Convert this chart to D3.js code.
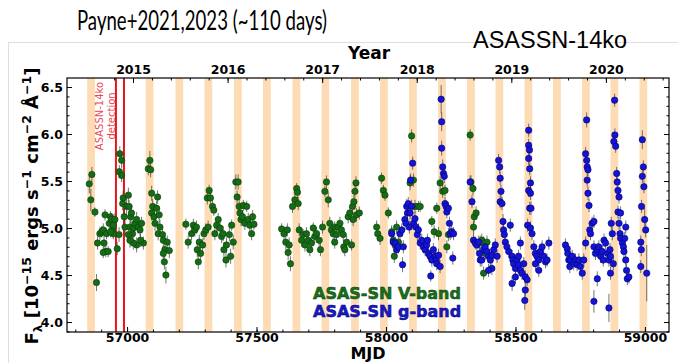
<!DOCTYPE html>
<html>
<head>
<meta charset="utf-8">
<script src="https://d3js.org/d3.v7.min.js"></script>
<style>
body { margin: 0; background: #fff; }
svg { display: block; font-family: "DejaVu Sans", sans-serif; }
</style>
</head>
<body>
<svg id="chart" width="678" height="363"></svg>
<script>
// ASAS-SN light curve of ASASSN-14ko: [MJD, flux, error]
const vBand = [
  [56854,5.47,.10],[56864,5.57,.08],[56860,5.30,.12],[56876,5.17,.05],[56882,4.42,.09],[56886,4.84,.07],
  [56895,4.94,.07],[56902,4.96,.06],[56908,4.98,.07],[56915,5.14,.06],[56911,4.84,.07],[56918,4.75,.06],
  [56908,4.74,.06],[56927,4.75,.06],[56921,4.94,.06],[56931,5.05,.07],[56936,5.12,.06],[56940,5.09,.07],
  [56943,4.98,.08],[56947,5.03,.07],[56953,5.09,.07],[56947,4.94,.06],[56936,4.96,.06],[56962,4.78,.07],
  [56969,4.93,.08],[56972,5.79,.08],[56979,5.72,.08],[56970,5.60,.07],[56979,5.56,.07],[56985,5.32,.08],
  [56983,5.26,.07],[56989,5.12,.07],[56998,5.23,.09],[56992,5.01,.08],[57005,5.35,.08],[57008,5.23,.07],
  [57014,5.12,.08],[57017,5.16,.08],[57011,5.01,.07],[57021,4.94,.07],[57024,5.00,.07],[57030,5.05,.07],
  [57037,5.09,.08],[57043,5.01,.07],[57050,4.98,.07],[57056,5.05,.07],[57063,4.84,.07],[57052,4.87,.07],
  [57037,4.82,.08],[57024,4.84,.07],[57011,4.87,.08],[57005,4.93,.08],[57082,5.63,.07],[57091,5.62,.08],
  [57088,5.72,.10],[57095,5.37,.08],[57099,5.23,.08],[57095,5.16,.08],[57104,5.12,.07],[57108,5.05,.08],
  [57114,5.21,.08],[57118,5.33,.07],[57124,5.14,.09],[57127,5.01,.08],[57120,4.94,.07],[57137,4.93,.08],
  [57140,4.87,.08],[57146,4.77,.08],[57155,4.85,.07],[57163,4.76,.08],[57144,4.64,.08],[57150,4.50,.09],
  [57140,4.73,.08],
  [57227,5.04,.06],[57236,4.85,.07],[57249,4.94,.07],[57256,5.03,.07],[57262,4.98,.07],[57268,5.01,.07],
  [57271,4.77,.08],[57279,4.85,.08],[57275,4.64,.08],[57284,4.73,.08],[57292,4.82,.07],[57297,4.94,.07],
  [57304,4.98,.07],[57310,5.32,.07],[57317,5.40,.06],[57322,5.32,.06],[57313,5.01,.07],[57330,5.23,.06],
  [57335,5.19,.06],[57339,4.94,.07],[57346,5.03,.07],[57352,5.09,.07],[57359,5.00,.07],[57365,4.91,.07],
  [57371,4.94,.08],[57374,4.77,.08],[57382,4.66,.08],[57384,4.82,.08],[57395,4.93,.07],[57400,4.70,.08],
  [57404,5.03,.06],[57410,4.85,.08],[57420,5.49,.08],[57429,5.49,.08],[57425,5.33,.07],[57433,5.23,.08],
  [57436,5.16,.07],[57440,5.09,.07],[57446,5.12,.07],[57449,5.24,.06],[57455,5.05,.07],[57462,5.23,.06],
  [57468,5.09,.07],[57474,5.03,.07],[57481,4.94,.07],[57485,5.12,.07],[57490,5.04,.06],
  [57597,4.99,.06],[57606,4.94,.07],[57613,4.85,.08],[57619,4.98,.07],[57626,4.82,.08],[57622,4.74,.08],
  [57631,4.62,.08],[57639,5.23,.07],[57648,5.30,.07],[57655,5.42,.06],[57658,5.38,.07],[57661,5.26,.07],
  [57665,4.98,.07],[57674,4.87,.07],[57680,4.93,.06],[57687,4.82,.07],[57693,4.94,.07],[57700,4.87,.07],
  [57706,4.77,.07],[57712,4.84,.07],[57719,5.00,.06],[57725,4.91,.07],[57732,4.94,.07],[57742,4.87,.07],
  [57747,4.77,.07],[57755,5.01,.07],[57764,5.39,.06],[57770,5.49,.07],[57777,5.30,.08],
  [57783,5.05,.07],[57789,4.98,.07],[57796,4.94,.07],[57802,5.01,.06],[57809,4.93,.07],[57802,4.85,.07],
  [57815,5.01,.07],[57822,5.05,.07],[57828,4.98,.07],[57835,4.93,.07],[57837,4.80,.07],[57841,4.77,.07],
  [57848,4.85,.07],[57854,5.12,.07],[57860,5.16,.07],[57867,4.82,.06],[57871,5.23,.07],[57876,5.28,.07],
  [57880,5.39,.07],[57884,5.48,.07],[57886,5.14,.07],[57897,5.16,.07],[57873,5.09,.07],
  [57964,5.01,.07],[57968,4.94,.07],[57977,4.89,.07],[57983,5.53,.06],[57990,5.40,.06],[57996,5.35,.06],
  [58009,5.16,.06],[58022,4.96,.07],[58028,4.87,.07],[58035,4.82,.07],[58041,5.01,.07],[58032,4.70,.07],
  [58048,4.85,.07],[58093,5.48,.08],[58099,5.98,.07],[58106,5.51,.07],[58112,5.23,.07],[58125,5.23,.06],
  [58132,5.23,.06],[58177,5.07,.06],[58186,4.96,.07],[58196,5.21,.06],[58203,4.94,.07],[58209,5.48,.07],
  [58219,5.39,.07],[58228,5.40,.06],[58235,4.80,.07],[58241,4.93,.07],
  [58325,5.99,.06],[58328,5.49,.07],[58336,5.42,.07],[58341,5.12,.07],[58338,5.01,.07],[58348,5.16,.07],
  [58364,4.85,.07],[58370,4.87,.07],[58377,4.84,.07],[58383,4.73,.07],[58377,4.52,.07],[58390,4.85,.07]
];

const gBand = [
  [58022,4.94,.07],[58028,4.85,.07],[58035,4.84,.07],[58041,4.77,.07],[58048,4.80,.07],[58054,4.94,.07],
  [58061,4.98,.07],[58067,4.80,.07],[58064,4.61,.08],[58073,5.09,.07],[58077,5.05,.07],[58080,5.23,.08],
  [58083,5.16,.07],[58086,5.26,.07],[58090,5.01,.07],[58093,5.16,.07],[58099,5.23,.07],[58103,5.69,.07],
  [58095,5.51,.07],[58106,5.05,.07],[58112,5.10,.07],[58116,5.01,.07],[58121,4.93,.07],[58125,4.98,.07],
  [58132,4.84,.07],[58138,4.87,.07],[58145,4.80,.07],[58151,4.77,.07],[58157,4.82,.07],[58160,4.87,.07],
  [58164,4.73,.07],[58170,4.70,.07],[58177,4.66,.07],[58183,4.77,.07],[58190,4.70,.07],[58194,4.66,.07],
  [58196,4.62,.07],[58203,4.71,.07],[58209,4.59,.07],[58173,4.49,.06],
  [58213,6.37,.15],[58215,6.13,.10],[58215,5.85,.08],[58219,5.65,.08],[58222,5.58,.07],[58225,5.55,.07],
  [58228,5.26,.07],[58232,5.23,.07],[58235,5.17,.07],[58241,5.21,.07],[58248,4.94,.07],[58254,4.96,.07],
  [58261,4.94,.07],[58258,4.68,.07],[58245,5.05,.07],
  [58325,5.49,.07],[58332,5.28,.07],[58338,4.87,.07],[58345,4.84,.07],[58351,4.82,.07],[58358,4.85,.07],
  [58361,4.73,.07],[58364,4.66,.07],[58370,4.66,.07],[58377,4.77,.07],[58383,4.80,.07],[58390,4.75,.07],
  [58396,4.70,.07],[58403,4.66,.07],[58409,4.71,.07],[58416,4.77,.07],[58422,4.82,.07],[58429,4.70,.07],
  [58409,4.57,.07],[58396,4.55,.07],
  [58435,5.72,.07],[58439,5.65,.07],[58441,5.53,.07],[58444,5.39,.07],[58441,5.28,.07],[58448,5.26,.07],
  [58452,5.07,.08],[58454,4.98,.07],[58457,4.93,.07],[58461,4.85,.07],[58467,4.80,.07],[58474,4.75,.07],
  [58480,5.03,.07],[58487,4.70,.07],[58490,4.66,.07],[58493,4.62,.07],[58500,4.57,.07],[58506,4.66,.07],
  [58512,4.61,.07],[58519,4.55,.07],[58525,4.52,.07],[58532,4.62,.07],[58538,4.48,.07],[58538,4.34,.08],
  [58536,4.23,.10],[58545,4.45,.07],[58487,4.41,.08],[58500,4.48,.07],[58512,4.70,.07],[58519,4.84,.07],
  [58551,6.04,.07],[58551,5.88,.07],[58554,5.83,.07],[58551,5.74,.07],[58555,5.63,.07],[58558,5.48,.07],
  [58551,5.40,.07],[58558,5.37,.07],[58555,5.21,.07],[58560,5.21,.07],[58547,5.03,.07],[58558,5.00,.07],
  [58564,4.94,.07],[58571,4.80,.07],[58577,4.73,.07],[58583,4.70,.07],[58590,4.66,.07],[58596,4.75,.07],
  [58603,4.80,.07],[58609,4.70,.07],[58616,4.64,.07],[58622,4.66,.07],[58629,4.84,.07],[58577,4.62,.07],
  [58590,4.55,.07],
  [58693,4.82,.07],[58700,4.78,.07],[58702,4.73,.07],[58706,4.66,.07],[58710,4.59,.07],[58713,4.66,.07],
  [58719,4.70,.07],[58725,4.62,.07],[58732,4.66,.07],[58738,4.61,.07],[58745,4.66,.07],[58751,4.59,.07],
  [58758,4.52,.07],[58764,4.66,.07],[58771,4.84,.07],[58775,6.15,.08],[58771,5.79,.07],[58775,5.72,.07],
  [58777,5.65,.07],[58780,5.62,.07],[58777,5.51,.07],[58780,5.37,.07],[58784,5.24,.07],[58787,4.98,.07],
  [58790,4.94,.07],[58796,5.05,.07],[58803,5.07,.07],[58803,4.80,.07],[58809,4.73,.07],[58816,4.77,.07],
  [58822,4.80,.07],[58829,4.70,.07],[58835,4.75,.07],[58839,4.66,.07],[58842,4.87,.07],[58848,4.84,.07],
  [58855,4.73,.07],[58861,4.66,.07],[58865,4.77,.07],[58867,4.70,.07],[58870,5.05,.07],[58874,4.94,.07],
  [58878,4.62,.07],[58867,4.52,.07],[58816,4.46,.08],[58803,4.22,.12],[58861,4.15,.15],
  [58883,6.36,.07],[58884,5.99,.07],[58880,5.92,.07],[58887,5.87,.07],[58891,5.58,.07],[58893,5.49,.07],
  [58896,5.40,.07],[58900,5.33,.07],[58896,5.17,.07],[58900,5.05,.07],[58904,4.94,.07],[58906,4.89,.07],
  [58913,4.84,.07],[58917,4.80,.07],[58919,4.75,.07],[58906,5.16,.07],[58926,4.66,.07],[58929,4.55,.07],
  [58932,4.46,.07],[58938,4.48,.07],[58926,5.01,.07],[58922,4.89,.07],
  [58990,5.94,.10],[58994,5.65,.07],[58990,5.55,.07],[58996,5.44,.07],[58987,5.23,.07],[58999,5.09,.12],
  [59003,4.98,.08],[58984,4.85,.07],[58986,4.77,.07],[58984,4.59,.07],[59007,4.52,.30]
];

// predicted flare windows (orange bands), centre MJD
const flareCenters = [56861, 57087, 57202, 57314, 57428, 57540, 57654, 57766, 57880, 57992,
                      58104, 58216, 58328, 58438, 58550, 58660, 58772, 58882, 58994];
const flareHalfWidth = 15;
const detectionMJD = [56957, 56988];

const mjdTicks = [57000, 57500, 58000, 58500, 59000];
const fluxTicks = [4.0, 4.5, 5.0, 5.5, 6.0, 6.5];
const yearTicks = [2015, 2016, 2017, 2018, 2019, 2020];

const plot = {left: 67, right: 669, top: 78, bottom: 332};
const svg = d3.select("#chart");

const x = d3.scaleLinear().domain([56768, 59093]).range([plot.left, plot.right]);
const y = d3.scaleLinear().domain([3.894, 6.596]).range([plot.bottom, plot.top]);
// years on the top axis (MJD 57023 = 2015 Jan 1)
const toYear = m => 2015 + (m - 57023) / 365.25;
const xYear = d3.scaleLinear().domain(x.domain().map(toYear)).range(x.range());

// light frame of the embedded figure
svg.append("rect").attr("x", 8.5).attr("y", 42.5).attr("width", 720).attr("height", 400)
  .attr("fill", "none").attr("stroke", "#dedede");

// titles
svg.append("text").attr("x", 77).attr("y", 30).attr("font-family", "Lato, 'Open Sans', sans-serif")
  .attr("font-size", 27).attr("textLength", 250).attr("lengthAdjust", "spacingAndGlyphs")
  .text("Payne+2021,2023 (~110 days)");
svg.append("text").attr("x", 473).attr("y", 48).attr("font-family", "'Liberation Sans', Arial, sans-serif")
  .attr("font-size", 23).attr("textLength", 154).attr("lengthAdjust", "spacingAndGlyphs")
  .text("ASASSN-14ko");

// flare bands
svg.append("g").selectAll("rect").data(flareCenters).join("rect")
  .attr("x", d => x(d - flareHalfWidth))
  .attr("width", d => x(d + flareHalfWidth) - x(d - flareHalfWidth))
  .attr("y", plot.top).attr("height", plot.bottom - plot.top)
  .attr("fill", "#fddcb5");

// detection lines + label
svg.append("g").selectAll("line").data(detectionMJD).join("line")
  .attr("x1", d => x(d)).attr("x2", d => x(d))
  .attr("y1", plot.top).attr("y2", plot.bottom)
  .attr("stroke", "#e8141c").attr("stroke-width", 2);
const detLabel = svg.append("g").attr("fill", "#e8464e").attr("font-size", 10).attr("text-anchor", "middle");
[["ASASSN-14ko", -16], ["detection", -4]].forEach(([t, dx]) => {
  detLabel.append("text")
    .attr("transform", `translate(${x(detectionMJD[0]) + dx},116) rotate(-90)`)
    .attr("dy", "0.35em").text(t);
});

// data with error bars
function drawSeries(data, fill, edge) {
  const g = svg.append("g");
  g.selectAll("line").data(data).join("line")
    .attr("x1", d => x(d[0])).attr("x2", d => x(d[0]))
    .attr("y1", d => y(d[1] - d[2])).attr("y2", d => y(d[1] + d[2]))
    .attr("stroke", "#3a3a3a").attr("stroke-opacity", 0.7).attr("stroke-width", 1);
  g.selectAll("circle").data(data).join("circle")
    .attr("cx", d => x(d[0])).attr("cy", d => y(d[1])).attr("r", 3.2)
    .attr("fill", fill).attr("stroke", edge).attr("stroke-width", 0.6);
}
drawSeries(vBand, "#156c15", "#0a400a");
drawSeries(gBand, "#1414d2", "#00007a");

// axes, ticks pointing inward
function styleAxis(g) {
  g.attr("font-family", "'DejaVu Sans', sans-serif").attr("font-size", 12.5).attr("font-weight", "bold");
  g.select(".domain").remove();
  g.selectAll(".tick line").attr("stroke", "#000");
  g.selectAll(".tick text").attr("fill", "#000");
}
const range = (a, b, s) => d3.range(Math.round(a / s), Math.round(b / s) + 1).map(v => +(v * s).toFixed(3));

svg.append("g").attr("transform", `translate(0,${plot.bottom})`)
  .call(d3.axisBottom(x).tickValues(range(56800, 59000, 100)).tickSize(-2.5).tickFormat("")).call(styleAxis);
svg.append("g").attr("transform", `translate(0,${plot.bottom})`)
  .call(d3.axisBottom(x).tickValues(mjdTicks).tickSize(-5).tickPadding(1).tickFormat(d3.format("d"))).call(styleAxis);

svg.append("g").attr("transform", `translate(0,${plot.top})`)
  .call(d3.axisTop(xYear).tickValues(range(2014.8, 2021.0, 0.2)).tickSize(-2.5).tickFormat("")).call(styleAxis);
svg.append("g").attr("transform", `translate(0,${plot.top})`)
  .call(d3.axisTop(xYear).tickValues(yearTicks).tickSize(-5).tickPadding(4).tickFormat(d3.format("d"))).call(styleAxis);

[["left", plot.left, d3.axisLeft], ["right", plot.right, d3.axisRight]].forEach(([side, px, ax]) => {
  svg.append("g").attr("transform", `translate(${px},0)`)
    .call(ax(y).tickValues(range(3.9, 6.5, 0.1)).tickSize(-2.5).tickFormat("")).call(styleAxis);
  svg.append("g").attr("transform", `translate(${px},0)`)
    .call(ax(y).tickValues(fluxTicks).tickSize(-5).tickPadding(4)
      .tickFormat(side === "left" ? d3.format(".1f") : "")).call(styleAxis);
});

svg.append("rect").attr("x", plot.left).attr("y", plot.top)
  .attr("width", plot.right - plot.left).attr("height", plot.bottom - plot.top)
  .attr("fill", "none").attr("stroke", "#000").attr("stroke-width", 1.2);

// axis labels
svg.append("text").attr("x", 369).attr("y", 59).attr("text-anchor", "middle")
  .attr("font-weight", "bold").attr("font-size", 17).text("Year");
svg.append("text").attr("x", 368).attr("y", 358.5).attr("text-anchor", "middle")
  .attr("font-weight", "bold").attr("font-size", 16).text("MJD");

const yl = svg.append("text").attr("transform", "translate(38,206) rotate(-90)")
  .attr("text-anchor", "middle").attr("font-weight", "bold").attr("font-size", 18);
yl.append("tspan").text("F");
yl.append("tspan").attr("dy", 4).attr("font-size", 12).text("λ");
yl.append("tspan").attr("dy", -4).text(" [10");
yl.append("tspan").attr("dy", -7).attr("font-size", 12.5).text("−15");
yl.append("tspan").attr("dy", 7).text(" ergs s");
yl.append("tspan").attr("dy", -7).attr("font-size", 12.5).text("−1");
yl.append("tspan").attr("dy", 7).text(" cm");
yl.append("tspan").attr("dy", -7).attr("font-size", 12.5).text("−2");
yl.append("tspan").attr("dy", 7).text(" Å");
yl.append("tspan").attr("dy", -7).attr("font-size", 12.5).text("−1");
yl.append("tspan").attr("dy", 7).text("]");

// legend
const legend = svg.append("g").attr("font-weight", "bold").attr("font-size", 16);
legend.append("text").attr("x", 313).attr("y", 299).attr("fill", "#177017")
  .attr("stroke", "#0b3f0b").attr("stroke-width", 0.5).text("ASAS-SN V-band");
legend.append("text").attr("x", 313).attr("y", 317).attr("fill", "#1919c8")
  .attr("stroke", "#00006e").attr("stroke-width", 0.5).text("ASAS-SN g-band");
</script>
</body>
</html>
